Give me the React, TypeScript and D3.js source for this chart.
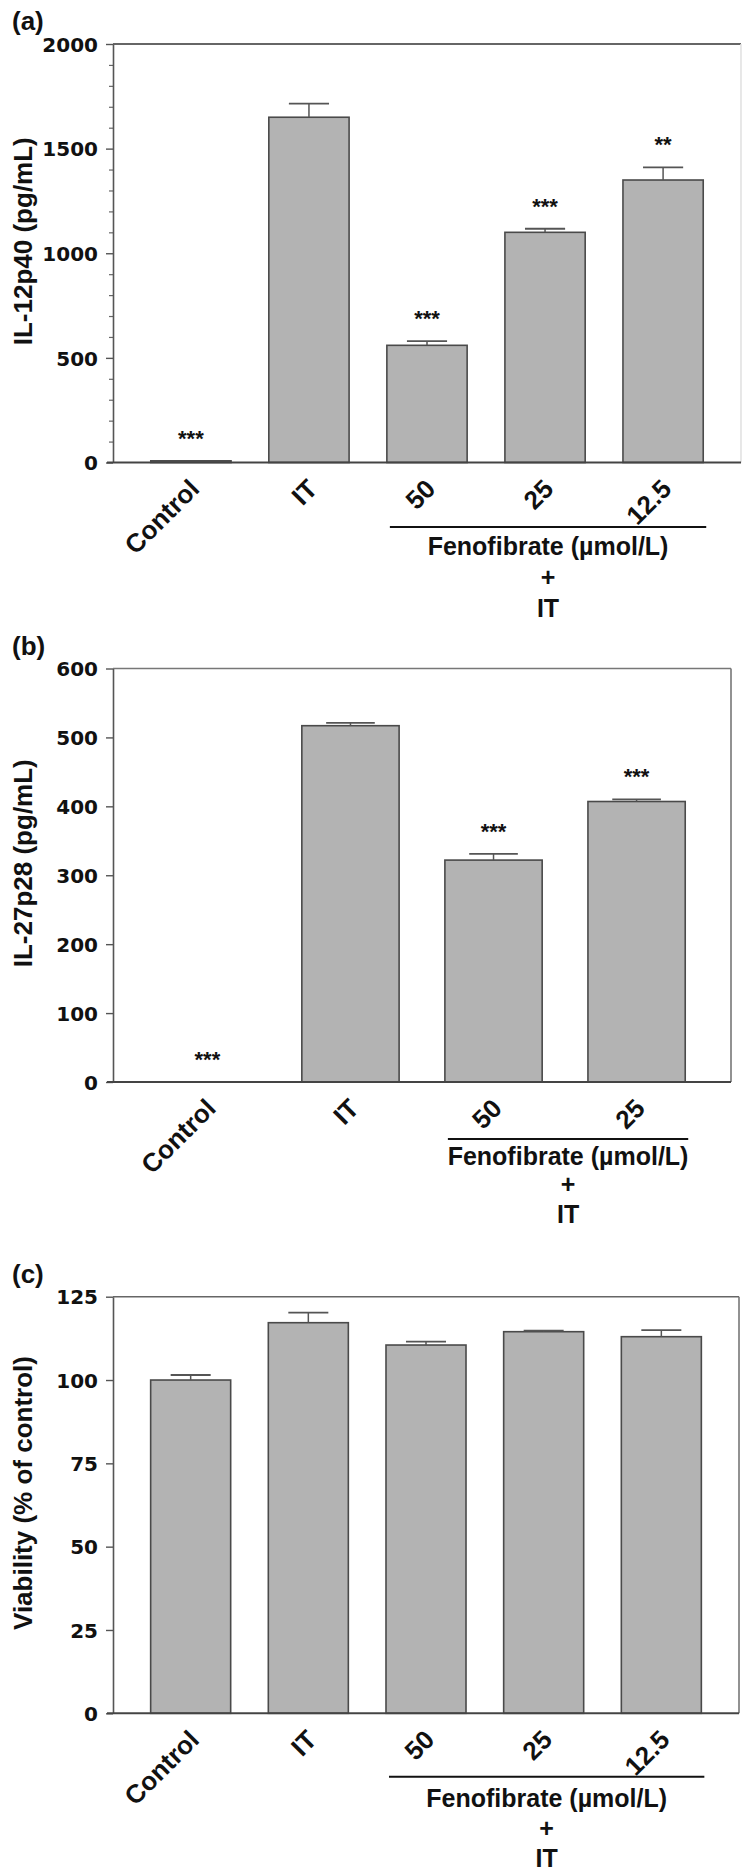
import React, { useEffect, useRef } from 'react'
import * as d3 from 'd3'

// panel (a) IL-12p40
const catsA = ['Control', 'IT', '50', '25', '12.5']
const valsA = [8, 1650, 560, 1100, 1350]
const errA = [0, 65, 20, 17, 60]
const sigA = ['***', '', '***', '***', '**']
const ticksA = [0, 500, 1000, 1500, 2000]
const minorA = d3.range(100, 2000, 100).filter(v => v % 500 !== 0)

// panel (b) IL-27p28
const catsB = ['Control', 'IT', '50', '25']
const valsB = [0, 517, 322, 407]
const errB = [0, 4, 9, 3]
const sigB = ['***', '', '***', '***']
const ticksB = [0, 100, 200, 300, 400, 500, 600]

// panel (c) viability
const catsC = ['Control', 'IT', '50', '25', '12.5']
const valsC = [100, 117.2, 110.5, 114.5, 113]
const errC = [1.5, 3, 1, 0.3, 2]
const sigC = ['', '', '', '', '']
const ticksC = [0, 25, 50, 75, 100, 125]

const SANS = "'Liberation Sans', Arial, Helvetica, sans-serif"
const NUM = "'DejaVu Sans', sans-serif"

const panels = [
  { tag: '(a)', label: 'IL-12p40 (pg/mL)', cats: catsA, vals: valsA, errs: errA, sig: sigA, ticks: ticksA, minor: minorA,
    max: 2000, top: 44, bottom: 462.5, right: 741, rightColor: '#e2e2e2', topColor: '#333', line: 64.5, txt: [28, 59, 90] },
  { tag: '(b)', label: 'IL-27p28 (pg/mL)', cats: catsB, vals: valsB, errs: errB, sig: sigB, ticks: ticksB, minor: [],
    max: 600, top: 668.5, bottom: 1082, right: 731, rightColor: '#777', topColor: '#777', line: 57, txt: [26, 54, 84] },
  { tag: '(c)', label: 'Viability (% of control)', cats: catsC, vals: valsC, errs: errC, sig: sigC, ticks: ticksC, minor: [],
    max: 125, top: 1296.7, bottom: 1713.3, right: 739, rightColor: '#777', topColor: '#666', line: 63.5, txt: [30, 60, 90] },
]

export default function App() {
  const svgRef = useRef(null)

  useEffect(() => {
    const svg = d3.select(svgRef.current)
    svg.selectAll('*').remove()
    const left = 113

    panels.forEach(p => {
      const g = svg.append('g')
      const x = d3.scaleBand().domain(p.cats).range([left, p.right]).padding(0.32)
      const y = d3.scaleLinear().domain([0, p.max]).range([p.bottom, p.top])
      const bw = x.bandwidth()

      // frame: top + right
      g.append('line').attr('x1', left).attr('x2', p.right).attr('y1', p.top).attr('y2', p.top)
        .attr('stroke', p.topColor).attr('stroke-width', 1.6)
      g.append('line').attr('x1', p.right).attr('x2', p.right).attr('y1', p.top).attr('y2', p.bottom)
        .attr('stroke', p.rightColor).attr('stroke-width', 1.6)

      // minor ticks
      if (p.minor.length) {
        const mg = g.append('g').attr('transform', `translate(${left},0)`)
          .call(d3.axisLeft(y).tickValues(p.minor).tickSize(4).tickFormat(() => ''))
        mg.select('.domain').remove()
        mg.selectAll('line').attr('stroke', '#666').attr('stroke-width', 1.2)
      }

      // y axis
      const ya = g.append('g').attr('transform', `translate(${left},0)`)
        .call(d3.axisLeft(y).tickValues(p.ticks).tickFormat(d3.format('d')).tickSize(7).tickPadding(8).tickSizeOuter(0))
      ya.select('.domain').attr('stroke', '#555').attr('stroke-width', 1.6)
      ya.selectAll('line').attr('stroke', '#555').attr('stroke-width', 1.4)
      ya.selectAll('text').attr('font-family', NUM).attr('font-weight', 'bold').attr('font-size', 20)
        .attr('fill', '#111').attr('dy', '0.36em')

      // bars
      const data = p.cats.map((c, i) => ({ c, v: p.vals[i], e: p.errs[i], s: p.sig[i] }))
      g.selectAll('rect.bar').data(data.filter(d => d.v > 0)).join('rect')
        .attr('x', d => x(d.c)).attr('width', bw)
        .attr('y', d => y(d.v)).attr('height', d => p.bottom - y(d.v))
        .attr('fill', '#b3b3b3').attr('stroke', '#4a4a4a').attr('stroke-width', 1.6)

      // error bars
      const eb = data.filter(d => d.e > 0)
      g.selectAll('line.eb').data(eb).join('line')
        .attr('x1', d => x(d.c) + bw / 2).attr('x2', d => x(d.c) + bw / 2)
        .attr('y1', d => y(d.v)).attr('y2', d => y(d.v + d.e))
        .attr('stroke', '#555').attr('stroke-width', 1.5)
      g.selectAll('line.cap').data(eb).join('line')
        .attr('x1', d => x(d.c) + bw / 4).attr('x2', d => x(d.c) + bw * 3 / 4)
        .attr('y1', d => y(d.v + d.e)).attr('y2', d => y(d.v + d.e))
        .attr('stroke', '#555').attr('stroke-width', 1.8)

      // significance stars
      g.selectAll('text.sig').data(data.filter(d => d.s)).join('text')
        .attr('x', d => x(d.c) + bw / 2).attr('y', d => y(d.v + d.e) - 15)
        .attr('text-anchor', 'middle').attr('font-family', SANS).attr('font-weight', 'bold')
        .attr('font-size', 22).attr('fill', '#111').text(d => d.s)

      // baseline
      g.append('line').attr('x1', left - 6).attr('x2', p.right).attr('y1', p.bottom).attr('y2', p.bottom)
        .attr('stroke', '#444').attr('stroke-width', 2)

      // x labels
      const xa = g.append('g').attr('transform', `translate(0,${p.bottom})`)
        .call(d3.axisBottom(x).tickSize(0))
      xa.select('.domain').remove()
      xa.selectAll('text').attr('x', 0).attr('y', 0).attr('dy', 0)
        .attr('transform', 'translate(10,28) rotate(-45)').attr('text-anchor', 'end')
        .attr('font-family', SANS).attr('font-weight', 'bold').attr('font-size', 26).attr('fill', '#111')

      // fenofibrate bracket
      const fen = p.cats.slice(2)
      const bx0 = x(fen[0]) + 3, bx1 = x(fen[fen.length - 1]) + bw + 3
      const ly = p.bottom + p.line
      g.append('line').attr('x1', bx0).attr('x2', bx1).attr('y1', ly).attr('y2', ly)
        .attr('stroke', '#111').attr('stroke-width', 2)
      const cx = (bx0 + bx1) / 2
      ;['Fenofibrate (\u00b5mol/L)', '+', 'IT'].forEach((t, i) => {
        g.append('text').attr('x', cx).attr('y', ly + p.txt[i]).attr('text-anchor', 'middle')
          .attr('font-family', SANS).attr('font-weight', 'bold').attr('font-size', 25).attr('fill', '#111').text(t)
      })

      // y label
      g.append('text').attr('transform', `translate(32,${(p.top + p.bottom) / 2 - 12}) rotate(-90)`)
        .attr('text-anchor', 'middle').attr('font-family', SANS).attr('font-weight', 'bold')
        .attr('font-size', 26).attr('fill', '#111').text(p.label)

      // panel tag
      g.append('text').attr('x', 12).attr('y', p.top - 14).attr('font-family', SANS).attr('font-weight', 'bold')
        .attr('font-size', 26).attr('fill', '#111').text(p.tag)
    })
  }, [])

  return (
    <svg ref={svgRef} width={750} height={1873}
      style={{ position: 'absolute', left: 0, top: 0, background: '#fff' }} />
  )
}
